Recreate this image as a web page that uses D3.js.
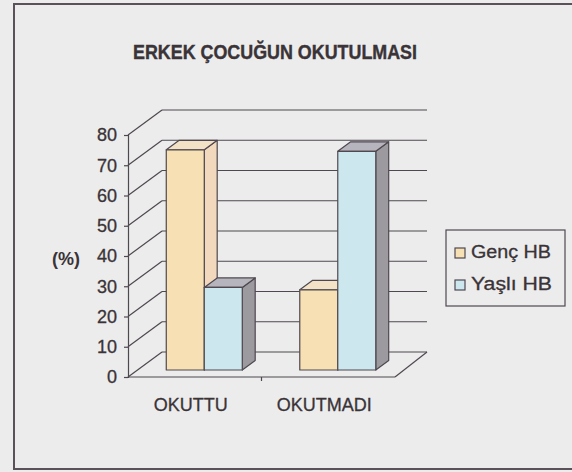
<!DOCTYPE html>
<html>
<head>
<meta charset="utf-8">
<script src="https://cdn.jsdelivr.net/npm/d3@7"></script>
<style>
  body { margin: 0; background: #ececec; }
  svg { display: block; font-family: "Liberation Sans", Arial, sans-serif; }
</style>
</head>
<body>
<div id="chart"></div>
<script>
// data
var categories = ["OKUTTU", "OKUTMADI"];
var series = ["Genç HB", "Yaşlı HB"];
var gencValues = [72.8, 26.5];
var yasliValues = [27.3, 72.3];
var yTicks = [0, 10, 20, 30, 40, 50, 60, 70, 80];

var W = 572, H = 472;
var lineCol = "#4f4850";
var textCol = "#3a3337";
var depthX = 34, depthY = -25;   // oblique offset of the back wall

var svg = d3.select("#chart").append("svg")
    .attr("width", W).attr("height", H);

svg.append("rect").attr("width", W).attr("height", H).attr("fill", "#ececec");
// outer frame
svg.append("rect")
    .attr("x", 14).attr("y", 4).attr("width", W + 10).attr("height", 465)
    .attr("fill", "none").attr("stroke", "#5a5258").attr("stroke-width", 2);

svg.append("text")
    .attr("x", 275).attr("y", 59)
    .attr("text-anchor", "middle")
    .attr("font-size", 20).attr("font-weight", "bold")
    .attr("fill", textCol).attr("stroke", textCol).attr("stroke-width", 0.4)
    .attr("textLength", 284).attr("lengthAdjust", "spacingAndGlyphs")
    .text("ERKEK ÇOCUĞUN OKUTULMASI");

var y = d3.scaleLinear().domain([0, 80]).range([377, 135]);
var x = d3.scaleBand().domain(categories).range([128, 395]);
var xs = d3.scaleBand().domain(series).range([0, 76]);

var x0 = x.range()[0], x1 = x.range()[1];
var g = svg.append("g").attr("stroke", lineCol).attr("stroke-width", 1.2).attr("fill", "none");

// back wall gridlines
g.selectAll(".grid").data(yTicks).enter().append("line")
    .attr("x1", x0 + depthX).attr("x2", x1 + depthX - 2)
    .attr("y1", d => y(d) + depthY).attr("y2", d => y(d) + depthY);
// side wall diagonals
g.selectAll(".diag").data(yTicks).enter().append("line")
    .attr("x1", x0).attr("x2", x0 + depthX)
    .attr("y1", d => y(d)).attr("y2", d => y(d) + depthY);
// floor front edge and right edge
g.append("line").attr("x1", x0).attr("x2", x1).attr("y1", y(0)).attr("y2", y(0));
g.append("line").attr("x1", x1).attr("x2", x1 + depthX - 2).attr("y1", y(0)).attr("y2", y(0) + depthY);

// y axis
var axis = svg.append("g").attr("transform", "translate(" + x0 + ",0)")
    .call(d3.axisLeft(y).tickValues(yTicks).tickSize(4).tickPadding(7));
axis.select(".domain").attr("stroke", lineCol).attr("stroke-width", 1.2);
axis.selectAll(".tick line").attr("stroke", lineCol).attr("stroke-width", 1.2);
axis.selectAll("text").attr("font-size", 18).attr("fill", textCol)
    .attr("stroke", textCol).attr("stroke-width", 0.3)
    .attr("font-family", "Liberation Sans, Arial, sans-serif");

// category tick on floor
g.selectAll(".ctick").data([categories[1]]).enter().append("line")
    .attr("x1", d => x(d)).attr("x2", d => x(d))
    .attr("y1", y(0)).attr("y2", y(0) + 4);

svg.selectAll(".cat").data(categories).enter().append("text")
    .attr("x", d => x(d) + x.bandwidth() / 2 - 4).attr("y", 411)
    .attr("text-anchor", "middle").attr("font-size", 18).attr("fill", textCol)
    .attr("stroke", textCol).attr("stroke-width", 0.3)
    .text(d => d);

svg.append("text").attr("x", 66).attr("y", 265)
    .attr("text-anchor", "middle").attr("font-size", 18).attr("font-weight", "bold")
    .attr("fill", textCol).text("(%)");

// 3d bars
var colors = {
  "Genç HB": { front: "#f6e0b4", side: "#f2d8bc", top: "#f4e2c6" },
  "Yaşlı HB": { front: "#cde7ef", side: "#9c9a9e", top: "#b6b4bc" }
};
var zFront = 0.28, zBack = 0.66;
var bars = [];
categories.forEach(function (c, i) {
  bars.push({ cat: c, s: series[0], v: gencValues[i] });
  bars.push({ cat: c, s: series[1], v: yasliValues[i] });
});
var groupOff = (x.bandwidth() - 76) / 2;

function barShapes(d) {
  var fx = x(d.cat) + groupOff + xs(d.s) + zFront * depthX;
  var fw = xs.bandwidth();
  var base = y(0) + zFront * depthY;
  var top = base - (y(0) - y(d.v));
  var ddx = (zBack - zFront) * depthX, ddy = (zBack - zFront) * depthY;
  return {
    front: [[fx, base], [fx, top], [fx + fw, top], [fx + fw, base]],
    side: [[fx + fw, base], [fx + fw, top], [fx + fw + ddx, top + ddy], [fx + fw + ddx, base + ddy]],
    top: [[fx, top], [fx + ddx, top + ddy], [fx + fw + ddx, top + ddy], [fx + fw, top]]
  };
}

var bg = svg.selectAll(".bar").data(bars).enter().append("g")
    .attr("stroke", lineCol).attr("stroke-width", 1.2).attr("stroke-linejoin", "round");
["side", "top", "front"].forEach(function (face) {
  bg.append("path")
      .attr("d", d => "M" + barShapes(d)[face].join("L") + "Z")
      .attr("fill", d => colors[d.s][face]);
});

// legend
var leg = svg.append("g").attr("transform", "translate(446,230)");
leg.append("rect").attr("width", 119).attr("height", 76)
    .attr("fill", "none").attr("stroke", lineCol).attr("stroke-width", 1.2);
var li = leg.selectAll(".li").data(series).enter().append("g")
    .attr("transform", (d, i) => "translate(9," + (28 + i * 32) + ")");
li.append("rect").attr("x", 0).attr("y", -10).attr("width", 10).attr("height", 10)
    .attr("fill", d => colors[d].front).attr("stroke", lineCol).attr("stroke-width", 1.2);
li.append("text").attr("x", 16).attr("y", 0).attr("font-size", 18).attr("fill", textCol)
    .attr("stroke", textCol).attr("stroke-width", 0.3)
    .attr("textLength", (d, i) => i === 0 ? 80 : 81).attr("lengthAdjust", "spacingAndGlyphs")
    .text(d => d);
</script>
</body>
</html>
